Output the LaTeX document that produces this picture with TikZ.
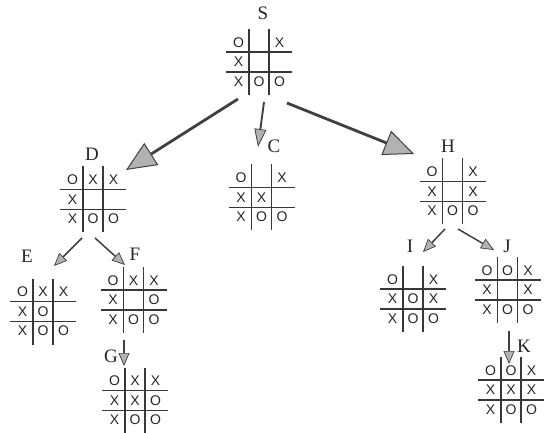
\documentclass[tikz,border=0pt]{standalone}
\usepackage{fontspec}
\setmainfont{Liberation Serif}
\newfontfamily\cellfont{Liberation Sans}
\usetikzlibrary{arrows.meta}
\tikzset{
  gridline/.style={draw=black!78, line width=1.3pt},
  cell/.style={font=\cellfont\fontsize{14}{14}\selectfont, text=black!85, inner sep=0pt},
  lbl/.style={font=\fontsize{19}{19}\selectfont, text=black!85, inner sep=0pt},
  boardbox/.style={inner sep=0pt, minimum size=66pt},
  bigarrow/.style={draw=black!75, line width=2.8pt,
    -{Triangle[length=30pt,width=26pt,fill=gray!60,line width=1pt]}},
  midarrow/.style={draw=black!75, line width=1.9pt,
    -{Triangle[length=18pt,width=12pt,fill=gray!60,line width=0.8pt]}},
  smallarrow/.style={draw=black!75, line width=1.5pt,
    -{Triangle[length=13pt,width=11pt,fill=gray!60,line width=0.7pt]}},
}
\def\tttE{.}
\newcommand\tttboard[4]{%
  \node[boardbox] (#1) at (#2,#3) {};
  \begin{scope}[shift={(#2,#3)}]
    \draw[gridline] (-10,-33) -- (-10,33);
    \draw[gridline] (10,-33) -- (10,33);
    \draw[gridline] (-33,-10) -- (33,-10);
    \draw[gridline] (-33,10) -- (33,10);
    \foreach \v [count=\i from 0] in {#4} {%
      \pgfmathtruncatemacro\rr{div(\i,3)}%
      \pgfmathtruncatemacro\cc{mod(\i,3)}%
      \ifx\v\tttE\else
        \node[cell] (#1-\i) at ({(\cc-1)*20.5},{(\rr-1)*19.5}) {\v};
      \fi
    }
  \end{scope}}
\begin{document}
\begin{tikzpicture}[x=1pt,y=-1pt]
\useasboundingbox[fill=white] (0,0) rectangle (544,433);

% boards
\tttboard{S}{259}{62}{O,.,X,X,.,.,X,O,O}
\tttboard{D}{93}{199.5}{O,X,X,X,.,.,X,O,O}
\tttboard{C}{261.5}{197.5}{O,.,X,X,X,.,X,O,O}
\tttboard{H}{452.5}{191.5}{O,.,X,X,.,X,X,O,O}
\tttboard{E}{43}{311.5}{O,X,X,X,O,.,X,O,O}
\tttboard{F}{133.5}{300}{O,X,X,X,.,O,X,O,O}
\tttboard{G}{135}{400.5}{O,X,X,X,X,O,X,O,O}
\tttboard{I}{413}{299}{O,.,X,X,O,X,X,O,O}
\tttboard{J}{507.5}{290}{O,O,X,X,.,X,X,O,O}
\tttboard{K}{511}{390}{O,O,X,X,X,X,X,O,O}

% labels
\node[lbl] (lS) at (263,13) {S};
\node[lbl] (lD) at (92,154) {D};
\node[lbl] (lC) at (274,146) {C};
\node[lbl] (lH) at (448,146) {H};
\node[lbl] (lE) at (27,256) {E};
\node[lbl] (lF) at (135,254) {F};
\node[lbl] (lG) at (111,356) {G};
\node[lbl] (lI) at (410,246) {I};
\node[lbl] (lJ) at (507,246) {J};
\node[lbl] (lK) at (524,346) {K};

% arrow endpoints
\coordinate (sd1) at (238,99);   \coordinate (sd2) at (126,170);
\coordinate (sc1) at (264,102);  \coordinate (sc2) at (258,147);
\coordinate (sh1) at (287,103);  \coordinate (sh2) at (414,154);
\coordinate (de1) at (82,238);   \coordinate (de2) at (54,266);
\coordinate (df1) at (95,238);   \coordinate (df2) at (125,265);
\coordinate (fg1) at (124,340);  \coordinate (fg2) at (124,366);
\coordinate (hi1) at (445,229);  \coordinate (hi2) at (423,252);
\coordinate (hj1) at (458,229);  \coordinate (hj2) at (494,250);
\coordinate (jk1) at (509,331);  \coordinate (jk2) at (509,364);

\draw[bigarrow] (sd1) -- (sd2);
\draw[midarrow] (sc1) -- (sc2);
\draw[bigarrow] (sh1) -- (sh2);
\draw[smallarrow] (de1) -- (de2);
\draw[smallarrow] (df1) -- (df2);
\draw[smallarrow] (fg1) -- (fg2);
\draw[smallarrow] (hi1) -- (hi2);
\draw[smallarrow] (hj1) -- (hj2);
\draw[smallarrow] (jk1) -- (jk2);
\end{tikzpicture}
\end{document}
